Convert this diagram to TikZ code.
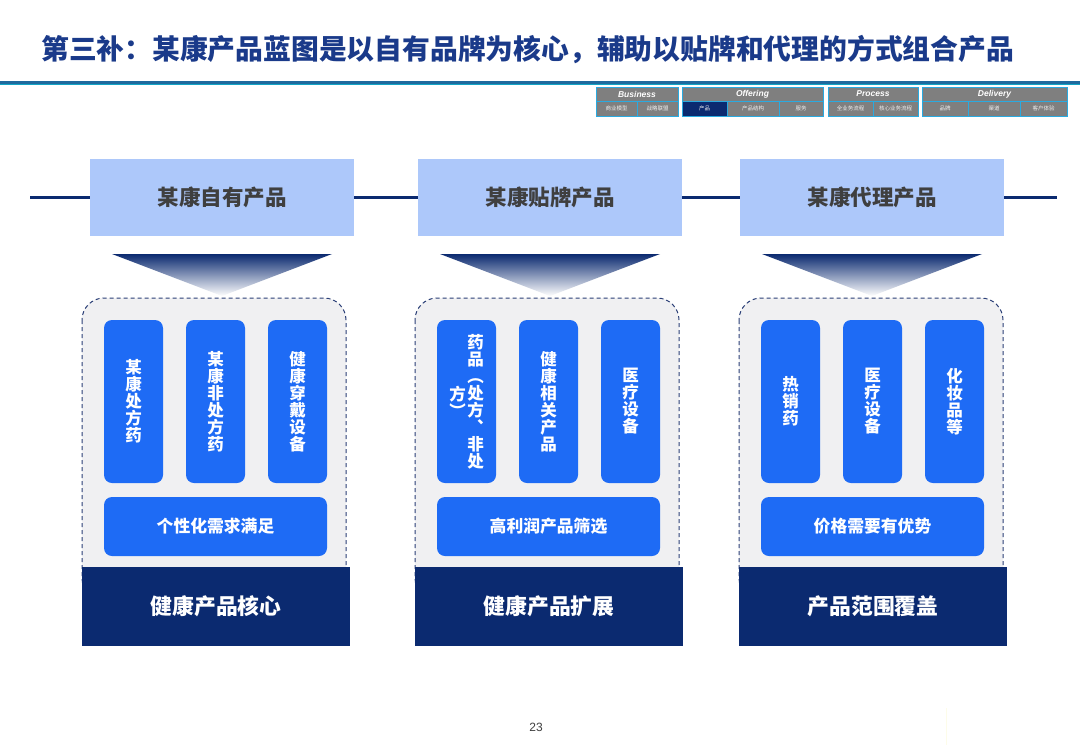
\documentclass[tikz,border=0pt]{standalone}
\usepackage{fontspec}
\setmainfont{Noto Sans CJK SC}
\newfontfamily\navfont{Liberation Sans}
\usetikzlibrary{positioning}
\definecolor{titleblue}{HTML}{1A3A8A}
\definecolor{ruleblue}{HTML}{1F6A9E}
\definecolor{topfill}{HTML}{ADC8FA}
\definecolor{toptext}{HTML}{3F3F3F}
\definecolor{navy}{HTML}{0B2A70}
\definecolor{brightblue}{HTML}{1E6BF5}
\definecolor{panelgray}{HTML}{F0F0F2}
\definecolor{dashblue}{HTML}{2B3F77}
\definecolor{navgray}{HTML}{7F7F7F}
\definecolor{navedge}{HTML}{2AAAE0}
% one column of vertical text, rows 17pt apart
\newcommand{\vcol}[1]{$\vcenter{\baselineskip=17pt\lineskiplimit=-20pt\lineskip=0pt
  \let\\\cr\halign{\hfil##\hfil\cr#1\crcr}}$}

\begin{document}
\begin{tikzpicture}[x=1pt, y=-1pt,
  topbox/.style={fill=topfill, minimum width=264pt, minimum height=77pt, inner sep=0pt,
                 font=\bfseries\fontsize{21.5}{24}\selectfont, text=toptext},
  colbox/.style={fill=brightblue, rounded corners=8pt, minimum width=59pt, minimum height=163pt,
                 inner sep=0pt, text=white, font=\bfseries\fontsize{16.5}{17}\selectfont},
  widebox/.style={fill=brightblue, rounded corners=8pt, minimum width=223pt, minimum height=59pt,
                  inner sep=0pt, text=white, font=\bfseries\fontsize{16.8}{18}\selectfont},
  basebox/.style={fill=navy, minimum width=268pt, minimum height=79pt, inner sep=0pt,
                  text=white, font=\bfseries\fontsize{21.8}{24}\selectfont},
  panel/.style={fill=panelgray, draw=dashblue, line width=1pt, dash pattern=on 4pt off 3pt,
                rounded corners=22pt},
  navhead/.style={fill=navgray, draw=navedge, line width=0.8pt, minimum height=14pt, inner sep=0pt,
                  text=white, font=\navfont\bfseries\itshape\fontsize{8.5}{9}\selectfont},
  navcell/.style={draw=navedge, line width=0.8pt, minimum height=15pt, inner sep=0pt,
                  text=white!88!gray, font=\fontsize{5.5}{6}\selectfont},
]
\useasboundingbox (0,0) rectangle (1080,748);
\fill[white] (0,0) rectangle (1080,748);

% title and rule
\node[anchor=west, inner sep=0pt, text=titleblue, font=\bfseries\fontsize{27.8}{30}\selectfont]
  (title) at (41,50) {第三补：某康产品蓝图是以自有品牌为核心，辅助以贴牌和代理的方式组合产品};
\draw[ruleblue, line width=2.6pt] (0,82.3) -- (1080,82.3);
\draw[ruleblue!60!cyan, line width=0.8pt] (0,84.4) -- (1080,84.4);

% navigation bar
\foreach \a/\b/\t in {596/678/Business, 682/823/Offering, 828/918/Process, 922/1067/Delivery}
  \node[navhead, minimum width={(\b-\a)*1pt}] (nav\t) at ({(\a+\b)/2},94) {\t};
\foreach \a/\b/\t/\f in {596/637/商业模型/navgray, 637/678/战略联盟/navgray,
                         682/727/产品/navy, 727/779/产品结构/navgray, 779/823/服务/navgray,
                         828/873/全业务流程/navgray, 873/918/核心业务流程/navgray,
                         922/968/品牌/navgray, 968/1020/渠道/navgray, 1020/1067/客户体验/navgray}
  \node[navcell, fill=\f, minimum width={(\b-\a)*1pt}] (cell\a) at ({(\a+\b)/2},108.5) {\t};

% three product panels
\foreach \i/\t/\o/\top/\ca/\cb/\cc/\wide/\base in {
  1/222/104/某康自有产品/{\vcol{某\\康\\处\\方\\药}}/{\vcol{某\\康\\非\\处\\方\\药}}/{\vcol{健\\康\\穿\\戴\\设\\备}}/个性化需求满足/健康产品核心,
  2/550/437/某康贴牌产品/{\vcol{方\\︶}\hspace{1.5pt}\vcol{药\\品\\︵\\处\\方\\︑\\非\\处}}/{\vcol{健\\康\\相\\关\\产\\品}}/{\vcol{医\\疗\\设\\备}}/高利润产品筛选/健康产品扩展,
  3/872/761/某康代理产品/{\vcol{热\\销\\药}}/{\vcol{医\\疗\\设\\备}}/{\vcol{化\\妆\\品\\等}}/价格需要有优势/产品范围覆盖}{
  \node[topbox] (top\i) at (\t,197.5) {\top};
  \shade[top color=navy, middle color=navy!28, bottom color=white]
    (\t-110,254) -- (\t+110,254) -- (\t,296) -- cycle;
  \draw[panel] (\o-22,298) rectangle (\o+242,600);
  \node[colbox] (colA\i) at (\o+29.5,401.5) {\ca};
  \node[colbox] (colB\i) at (\o+111.5,401.5) {\cb};
  \node[colbox] (colC\i) at (\o+193.5,401.5) {\cc};
  \node[widebox] (wide\i) at (\o+111.5,526.5) {\wide};
  \node[basebox] (base\i) at (\o+112,606.5) {\base};
}

% line behind the top boxes
\coordinate (lineL) at (30,197.5);
\coordinate (lineR) at (1057,197.5);
\draw[navy, line width=3pt] (lineL) -- (top1.west) (top1.east) -- (top2.west)
  (top2.east) -- (top3.west) (top3.east) -- (lineR);

% page number
\node[text=toptext, font=\navfont\fontsize{12}{14}\selectfont] (page) at (536,727) {23};
\draw[gray!20!yellow!10!white, line width=1pt] (946,708) -- (946,745);
\end{tikzpicture}
\end{document}
